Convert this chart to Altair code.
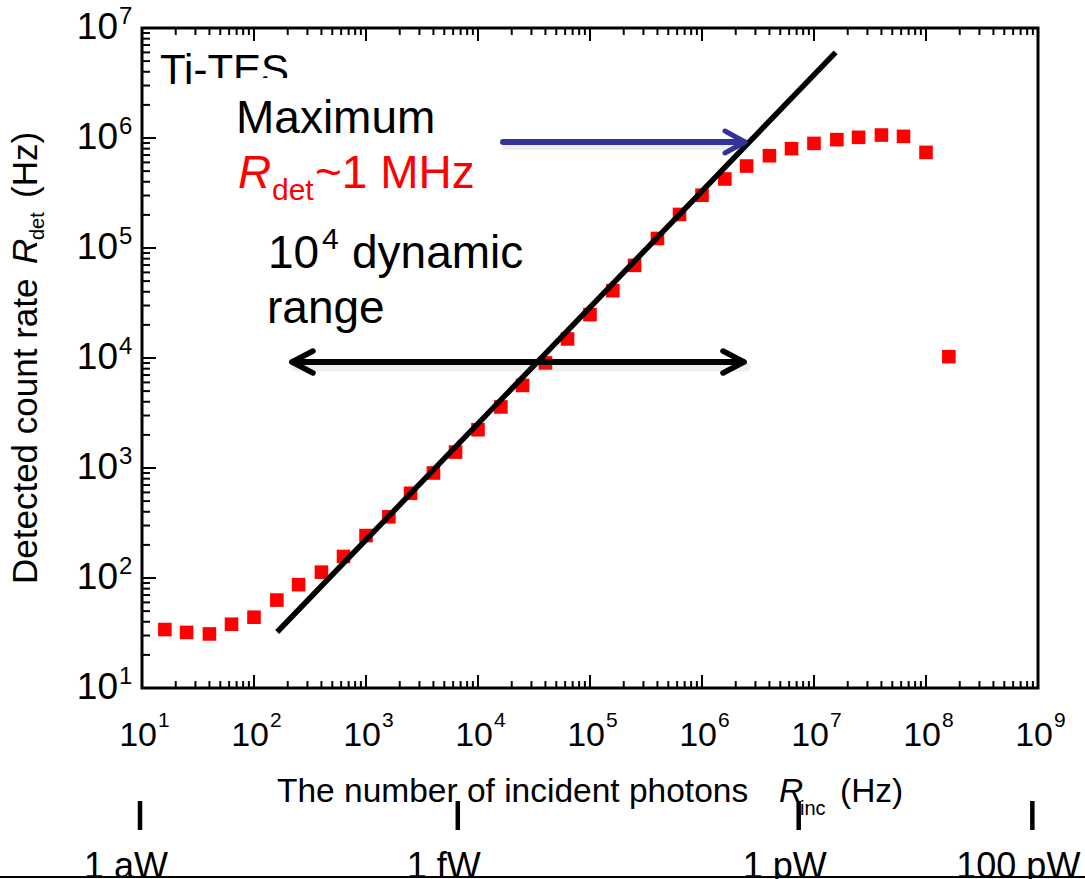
import altair as alt
import pandas as pd

# Incident photon rate R_inc (Hz) and detected count rate R_det (Hz) of the Ti-TES
r_inc = [16, 25, 40, 63, 100, 160, 250, 400, 630, 1000, 1600, 2500, 4000, 6300,
         1.0e4, 1.6e4, 2.5e4, 4.0e4, 6.3e4, 1.0e5, 1.6e5, 2.5e5, 4.0e5, 6.3e5,
         1.0e6, 1.6e6, 2.5e6, 4.0e6, 6.3e6, 1.0e7, 1.6e7, 2.5e7, 4.0e7, 6.3e7,
         1.0e8, 1.6e8]
r_det = [34, 32, 31, 38, 44, 63, 87, 113, 157, 243, 360, 589, 901, 1396,
         2228, 3590, 5630, 9020, 14900, 24800, 40900, 69500, 122000, 202000,
         302000, 424000, 556000, 690000, 800000, 893000, 966000, 1014000,
         1064000, 1035000, 740000, 10280]

# Linear-response guide line (end points)
fit_inc = [161, 1.56e7]
fit_det = [32.3, 6.0e6]

# Decade tick values and their exponents
x_decades = [1e1, 1e2, 1e3, 1e4, 1e5, 1e6, 1e7, 1e8, 1e9]
x_exponents = ["1", "2", "3", "4", "5", "6", "7", "8", "9"]
y_decades = [1e1, 1e2, 1e3, 1e4, 1e5, 1e6, 1e7]
y_exponents = ["1", "2", "3", "4", "5", "6", "7"]

# Optical power equivalents marked along the photon-rate axis
power_rate = [9.6, 6.6e3, 7.3e6, 8.9e8]
power_labels = ["1 aW", "1 fW", "1 pW", "100 pW"]

# ---- layout -------------------------------------------------------------
LEFT, TOP, W, H = 142, 28, 896, 660
SANS = "Liberation Sans, Arial, Helvetica, sans-serif"
NARROW = "Liberation Sans Narrow, Arial Narrow, Liberation Sans, sans-serif"
GRID_BLUE = "#0000ff"
ARROW_BLUE = "#33339a"

xs = alt.Scale(type="log", domain=[1e1, 1e9], nice=False)
ys = alt.Scale(type="log", domain=[1e1, 1e7], nice=False)

one = pd.DataFrame({"k": [0]})


def px(x):
    return alt.value(x - LEFT)


def py(y):
    return alt.value(y - TOP)


def label(txt, x, y, size, color="black", font=SANS, **kw):
    return alt.Chart(one).mark_text(
        text=txt, fontSize=size, font=font, color=color,
        align=kw.pop("align", "left"), baseline=kw.pop("baseline", "alphabetic"), **kw
    ).encode(x=px(x), y=py(y))


def seg(x1, y1, x2, y2, color="black", width=5, opacity=1.0):
    return alt.Chart(one).mark_rule(
        color=color, strokeWidth=width, strokeCap="round", opacity=opacity
    ).encode(x=px(x1), y=py(y1), x2=px(x2), y2=py(y2))


def box(x1, y1, x2, y2):
    return alt.Chart(one).mark_rect(color="white", opacity=1).encode(
        x=px(x1), y=py(y1), x2=px(x2), y2=py(y2))


# ---- grid (carried by an invisible copy of the data layer) --------------
grid_x = alt.Axis(values=x_decades, grid=True, gridColor=GRID_BLUE, gridWidth=1.2,
                  gridOpacity=1, labels=False, ticks=False, domain=False, title=None)
grid_y = alt.Axis(values=y_decades, grid=True, gridColor=GRID_BLUE, gridWidth=1.2,
                  gridOpacity=1, labels=False, ticks=False, domain=False, title=None)

data = pd.DataFrame({"r_inc": r_inc, "r_det": r_det})
grid_carrier = alt.Chart(data).mark_square(size=0, opacity=0).encode(
    x=alt.X("r_inc:Q", scale=xs, axis=grid_x),
    y=alt.Y("r_det:Q", scale=ys, axis=grid_y),
)
points = alt.Chart(data).mark_square(size=185, color="#ff0000", opacity=1).encode(
    x=alt.X("r_inc:Q", scale=xs, axis=None),
    y=alt.Y("r_det:Q", scale=ys, axis=None),
)

fit = alt.Chart(pd.DataFrame({"r_inc": fit_inc, "r_det": fit_det})).mark_line(
    color="black", strokeWidth=5.5, strokeCap="butt"
).encode(
    x=alt.X("r_inc:Q", scale=xs, axis=None),
    y=alt.Y("r_det:Q", scale=ys, axis=None),
)

# ---- inward axis ticks ---------------------------------------------------
def tick_values(lo, hi, major):
    vals = []
    for d in range(lo, hi):
        for m in range(1, 10):
            if (m == 1) == major:
                vals.append(m * 10.0 ** d)
    if major:
        vals.append(10.0 ** hi)
    return pd.DataFrame({"v": vals})


def yticks(major):
    ln = 14 if major else 8
    return alt.Chart(tick_values(1, 7, major)).mark_rule(color="black", strokeWidth=2).encode(
        y=alt.Y("v:Q", scale=ys, axis=None), x=alt.value(0), x2=alt.value(ln))


def xticks(major, top):
    ln = 13 if major else 7
    y0, y1 = (0, ln) if top else (H, H - ln)
    return alt.Chart(tick_values(1, 9, major)).mark_rule(color="black", strokeWidth=2).encode(
        x=alt.X("v:Q", scale=xs, axis=None), y=alt.value(y0), y2=alt.value(y1))


ticks = [yticks(True), yticks(False),
         xticks(True, False), xticks(False, False),
         xticks(True, True), xticks(False, True)]

# ---- decade labels with superscript exponents ---------------------------
ylab = pd.DataFrame({"v": y_decades, "e": y_exponents})
y_base = alt.Chart(ylab).mark_text(text="10", align="right", baseline="middle",
                                   fontSize=37, font=SANS).encode(
    y=alt.Y("v:Q", scale=ys, axis=None), x=px(118))
y_exp = alt.Chart(ylab).mark_text(align="left", baseline="middle", fontSize=24,
                                  font=SANS, dy=-11).encode(
    y=alt.Y("v:Q", scale=ys, axis=None), x=px(119), text="e:N")

xlab = pd.DataFrame({"v": x_decades, "e": x_exponents})
x_base = alt.Chart(xlab).mark_text(text="10", align="right", baseline="middle",
                                   fontSize=34, font=NARROW, dx=15).encode(
    x=alt.X("v:Q", scale=xs, axis=None), y=py(736))
x_exp = alt.Chart(xlab).mark_text(align="left", baseline="middle", fontSize=21,
                                  font=NARROW, dx=16).encode(
    x=alt.X("v:Q", scale=xs, axis=None), y=py(721), text="e:N")

# ---- axis titles ---------------------------------------------------------
x_title = [
    label("The number of incident photons", 277, 802, 33.5, font=NARROW),
    label("R", 779, 802, 33.5, font=NARROW, fontStyle="italic"),
    label("inc", 800, 815, 20, font=NARROW),
    label("(Hz)", 840, 802, 33.5, font=NARROW),
]
y_title = [
    label("Detected count rate", 37, 584, 35, angle=270),
    label("R", 37, 264, 35, angle=270, fontStyle="italic"),
    label("det", 44, 240, 20, angle=270),
    label("(Hz)", 37, 198, 35, angle=270),
]

# ---- optical power scale below the axis ---------------------------------
pw = pd.DataFrame({"v": power_rate, "t": power_labels})
power_ticks = alt.Chart(pw).mark_rule(color="black", strokeWidth=4.5).encode(
    x=alt.X("v:Q", scale=xs, axis=None), y=py(801), y2=py(830))
power_text = alt.Chart(pw).mark_text(align="center", baseline="alphabetic", fontSize=36,
                                     font=NARROW, dx=-14).encode(
    x=alt.X("v:Q", scale=xs, axis=None), y=py(878), text="t:N")
bottom_rule = seg(0, 877, 1085, 877, width=2)

# ---- annotations ---------------------------------------------------------
ti_tes = label("Ti-TES", 160, 84, 42)
boxes = [box(216, 78, 500, 200), box(245, 200, 548, 347)]
texts = [
    label("Maximum", 236, 133, 46),
    label("R", 238, 188, 46, color="#ff0000", fontStyle="italic"),
    label("det", 272, 200, 30, color="#ff0000"),
    label("~1 MHz", 315, 188, 46, color="#ff0000"),
    label("10", 268, 268, 46),
    label("4", 322, 249, 30),
    label("dynamic", 352, 268, 46),
    label("range", 267, 323, 46),
]

shadow = "#777777"
arrows = [
    # soft shadows
    seg(506, 146, 744, 146, color=shadow, width=8, opacity=0.12),
    seg(296, 367, 746, 367, color=shadow, width=9, opacity=0.12),
    # blue arrow to the saturation level
    seg(503, 142, 741, 142, color=ARROW_BLUE, width=6),
    seg(745, 142, 725, 131, color=ARROW_BLUE, width=5),
    seg(745, 142, 725, 153, color=ARROW_BLUE, width=5),
    # black double arrow for the dynamic range
    seg(294, 362, 741, 362, width=6),
    seg(292, 362, 313, 351, width=5.5),
    seg(292, 362, 313, 373, width=5.5),
    seg(744, 362, 723, 351, width=5.5),
    seg(744, 362, 723, 373, width=5.5),
]

chart = alt.layer(
    grid_carrier,
    ti_tes,
    *boxes,
    *texts,
    points,
    fit,
    *arrows,
    *ticks,
    y_base, y_exp, x_base, x_exp,
    *x_title, *y_title,
    power_ticks, power_text, bottom_rule,
).properties(
    width=W, height=H,
    autosize=alt.AutoSizeParams(type="none"),
    padding={"left": LEFT, "top": TOP, "right": 1085 - LEFT - W, "bottom": 879 - TOP - H},
    background="white",
).configure_view(stroke="black", strokeWidth=3)

chart.save("out.html", embed_options={"renderer": "svg", "actions": False})
